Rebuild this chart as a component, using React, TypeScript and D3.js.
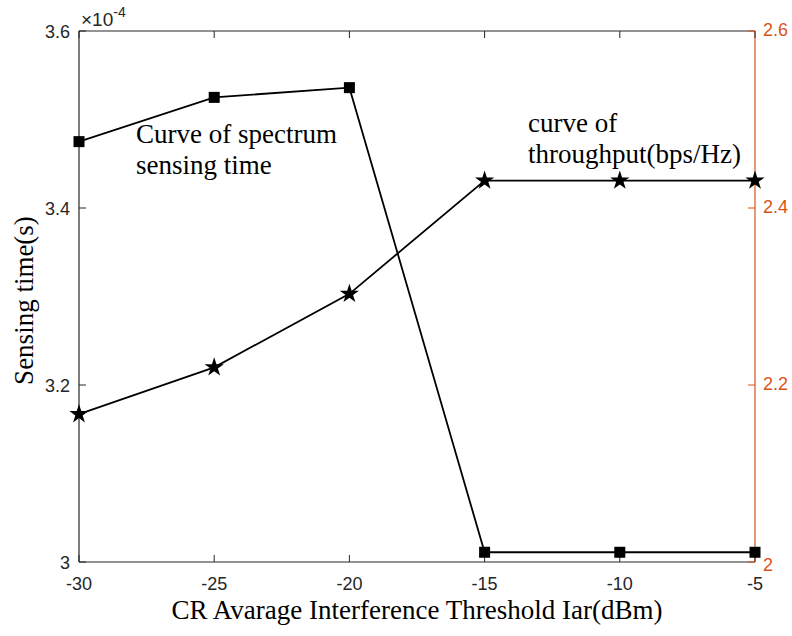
import React from "react";
import * as d3 from "d3";

const thresholds = [-30, -25, -20, -15, -10, -5];
const sensingTime = [3.475, 3.525, 3.536, 3.011, 3.011, 3.011]; // x1e-4 s
const throughput = [2.167, 2.22, 2.303, 2.431, 2.431, 2.431];
const xTicks = [-30, -25, -20, -15, -10, -5];
const leftTicks = [3, 3.2, 3.4, 3.6];
const rightTicks = [2, 2.2, 2.4, 2.6];

const W = 792, H = 636;
const L = 79, R = 755, T = 31, B = 562;
const ORANGE = "#D95319";
const AX = "#262626";

export default function App() {
  const x = d3.scaleLinear().domain([-30, -5]).range([L, R]);
  const yL = d3.scaleLinear().domain([3, 3.6]).range([B, T]);
  const yR = d3.scaleLinear().domain([2, 2.6]).range([B, T]);
  const lineL = d3.line<number>().x((_, i) => x(thresholds[i])).y((d) => yL(d));
  const lineR = d3.line<number>().x((_, i) => x(thresholds[i])).y((d) => yR(d));
  const star = d3.symbol().type(d3.symbolStar).size(115)() as string;
  const sans = "'Liberation Sans', Arial, sans-serif";
  const serif = "'Liberation Serif', 'Times New Roman', serif";
  return (
    <svg width={W} height={H} style={{ position: "absolute", left: 0, top: 0, background: "#fff" }}>
      <rect x={0} y={0} width={W} height={H} fill="#fff" />
      {/* box */}
      <line x1={L} y1={T} x2={R} y2={T} stroke={AX} strokeWidth={1.2} />
      <line x1={L} y1={B} x2={R} y2={B} stroke={AX} strokeWidth={1.2} />
      <line x1={L} y1={T} x2={L} y2={B} stroke={AX} strokeWidth={1.2} />
      <line x1={R} y1={T} x2={R} y2={B} stroke={ORANGE} strokeWidth={1.2} />
      {/* x ticks */}
      {xTicks.map((t) => (
        <g key={"x" + t}>
          <line x1={x(t)} x2={x(t)} y1={B} y2={B - 7} stroke={AX} />
          <line x1={x(t)} x2={x(t)} y1={T} y2={T + 7} stroke={AX} />
          <text x={x(t)} y={B + 28} textAnchor="middle" fontFamily={sans} fontSize={18} fill={AX}>
            {t}
          </text>
        </g>
      ))}
      {leftTicks.map((t) => (
        <g key={"l" + t}>
          <line x1={L} x2={L + 7} y1={yL(t)} y2={yL(t)} stroke={AX} />
          <text x={L - 9} y={yL(t) + 7} textAnchor="end" fontFamily={sans} fontSize={18} fill={AX}>
            {t === 3 ? "3" : t.toFixed(1)}
          </text>
        </g>
      ))}
      {rightTicks.map((t) => (
        <g key={"r" + t}>
          <line x1={R} x2={R - 7} y1={yR(t)} y2={yR(t)} stroke={ORANGE} />
          <text x={R + 8} y={yR(t) + (t === 2 ? 9 : 5)} textAnchor="start" fontFamily={sans} fontSize={18} fill={ORANGE}>
            {t === 2 ? "2" : t.toFixed(1)}
          </text>
        </g>
      ))}
      <text x={L + 2} y={T - 5} fontFamily={sans} fontSize={19} fill={AX}>
        ×10<tspan dy={-9} fontSize={14}>-4</tspan>
      </text>
      {/* lines */}
      <path d={lineL(sensingTime) || ""} fill="none" stroke="#000" strokeWidth={1.8} />
      <path d={lineR(throughput) || ""} fill="none" stroke="#000" strokeWidth={1.8} />
      {sensingTime.map((v, i) => (
        <rect key={"s" + i} x={x(thresholds[i]) - 5.5} y={yL(v) - 5.5} width={11} height={11} fill="#000" />
      ))}
      {throughput.map((v, i) => (
        <path key={"t" + i} d={star} transform={`translate(${x(thresholds[i])},${yR(v)})`} fill="#000" />
      ))}
      {/* annotations */}
      <text x={136} y={143} fontFamily={serif} fontSize={27} fill="#000">Curve of spectrum</text>
      <text x={136} y={174} fontFamily={serif} fontSize={27} fill="#000">sensing time</text>
      <text x={528} y={132} fontFamily={serif} fontSize={27} fill="#000">curve of</text>
      <text x={528} y={163} fontFamily={serif} fontSize={27} fill="#000">throughput(bps/Hz)</text>
      {/* axis labels */}
      <text x={(L + R) / 2} y={619} textAnchor="middle" fontFamily={serif} fontSize={27} fill="#000">
        CR Avarage Interference Threshold Iar(dBm)
      </text>
      <text transform={`translate(33,${(T + B) / 2 + 4}) rotate(-90)`} textAnchor="middle" fontFamily={serif} fontSize={27} fill="#000">
        Sensing time(s)
      </text>
    </svg>
  );
}
